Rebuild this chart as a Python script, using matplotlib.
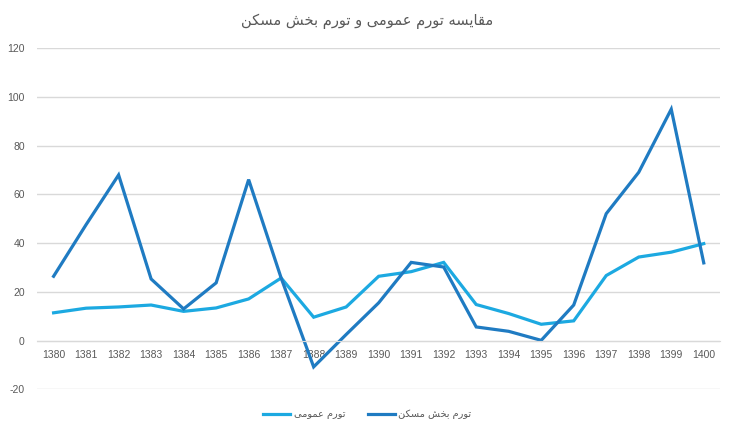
import numpy as np
import matplotlib
matplotlib.use("Agg")
import matplotlib.pyplot as plt

# سال ها و مقادیر (درصد)
years = [str(y) for y in range(1380, 1401)]
general_inflation = [11.4, 13.3, 13.8, 14.6, 12.0, 13.4, 17.1, 25.7, 9.6, 13.8, 26.4,
                     28.3, 32.1, 14.8, 11.1, 6.7, 8.1, 26.7, 34.3, 36.3, 39.8]
housing_inflation = [26.4, 47.6, 68.0, 25.3, 13.0, 23.7, 66.1, 25.7, -10.8, 2.5, 15.5,
                     32.1, 30.2, 5.6, 3.8, 0.1, 14.6, 52.1, 69.1, 95.0, 31.9]
yticks = [-20, 0, 20, 40, 60, 80, 100, 120]

title_txt = "مقایسه تورم عمومی و تورم بخش مسکن"
label_general = "تورم عمومی"
label_housing = "تورم بخش مسکن"

# matplotlib حروف عربی را نمی چسباند، پس خودمان شکل ها را انتخاب می کنیم
# (isolated, final, initial, medial)
FORMS = {
    "ا": ("\ufe8d", "\ufe8e", None, None),
    "ب": ("\ufe8f", "\ufe90", "\ufe91", "\ufe92"),
    "ت": ("\ufe95", "\ufe96", "\ufe97", "\ufe98"),
    "خ": ("\ufea5", "\ufea6", "\ufea7", "\ufea8"),
    "ر": ("\ufead", "\ufeae", None, None),
    "س": ("\ufeb1", "\ufeb2", "\ufeb3", "\ufeb4"),
    "ش": ("\ufeb5", "\ufeb6", "\ufeb7", "\ufeb8"),
    "ع": ("\ufec9", "\ufeca", "\ufecb", "\ufecc"),
    "ق": ("\ufed5", "\ufed6", "\ufed7", "\ufed8"),
    "م": ("\ufee1", "\ufee2", "\ufee3", "\ufee4"),
    "ن": ("\ufee5", "\ufee6", "\ufee7", "\ufee8"),
    "ه": ("\ufee9", "\ufeea", "\ufeeb", "\ufeec"),
    "و": ("\ufeed", "\ufeee", None, None),
    "ی": ("\ufbfc", "\ufbfd", "\ufbfe", "\ufbff"),
    "ک": ("\ufb8e", "\ufb8f", "\ufb90", "\ufb91"),
}


def shape(s):
    out = []
    for i, ch in enumerate(s):
        if ch not in FORMS:
            out.append(ch)
            continue
        prev = s[i - 1] if i > 0 else " "
        nxt = s[i + 1] if i + 1 < len(s) else " "
        jp = prev in FORMS and FORMS[prev][2] is not None
        jn = FORMS[ch][2] is not None and nxt in FORMS
        f = FORMS[ch]
        if jp and jn:
            out.append(f[3])
        elif jp:
            out.append(f[1])
        elif jn:
            out.append(f[2])
        else:
            out.append(f[0])
    return "".join(out)[::-1]


plt.rcParams['font.family'] = ['Liberation Sans', 'DejaVu Sans']
plt.rcParams['axes.unicode_minus'] = False

fig = plt.figure(figsize=(7.35, 4.34), dpi=100)
ax = fig.add_axes([0.0508, 0.103, 0.9288, 0.7857])

x = np.arange(len(years))
ax.plot(x, general_inflation, color="#1ca9e1", lw=2.3, label=shape(label_general),
        solid_joinstyle="miter")
ax.plot(x, housing_inflation, color="#1f7bc2", lw=2.3, label=shape(label_housing),
        solid_joinstyle="miter")

ax.set_xlim(-0.5, len(years) - 0.5)
ax.set_ylim(-20, 120)
ax.set_yticks(yticks)
ax.set_xticks(x)
ax.set_xticklabels(years)
ax.grid(axis="y", color="#d9d9d9", lw=1)
ax.set_axisbelow(True)
for sp in ["top", "right", "left"]:
    ax.spines[sp].set_visible(False)
ax.spines["bottom"].set_position(("data", 0))
ax.spines["bottom"].set_color("#d9d9d9")
ax.tick_params(axis="both", length=0, labelsize=7.5, labelcolor="#595959")
ax.tick_params(axis="y", pad=9)
ax.tick_params(axis="x", pad=7)

fig.text(0.5, 0.952, shape(title_txt), ha="center", va="center", fontsize=10.5,
         color="#595959", family="DejaVu Sans")

leg = fig.legend(loc="center", bbox_to_anchor=(0.5, 0.046), ncol=2, frameon=False,
                 prop={"family": "DejaVu Sans", "size": 7}, handlelength=2.7,
                 columnspacing=2.4, handletextpad=0.4)
for t in leg.get_texts():
    t.set_color("#595959")

fig.savefig("out.png", dpi=100)
